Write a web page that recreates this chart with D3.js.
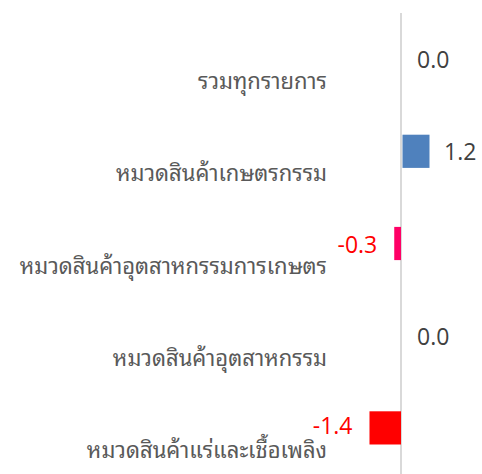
<!DOCTYPE html>
<html><head><meta charset="utf-8">
<script src="https://cdn.jsdelivr.net/npm/d3@7"></script>
<style>html,body{margin:0;padding:0;background:#fff;}</style>
</head><body><svg id="c" width="482" height="474"></svg>
<script>
const categories = ["รวมทุกรายการ","หมวดสินค้าเกษตรกรรม","หมวดสินค้าอุตสาหกรรมการเกษตร","หมวดสินค้าอุตสาหกรรม","หมวดสินค้าแร่และเชื้อเพลิง"];
const values = [0.0, 1.2, -0.3, 0.0, -1.4];
const barColors = ["#4f81bd","#4f81bd","#ff0066","#4f81bd","#ff0000"];

const svg = d3.select("#c");
const W = 482, H = 474;
const x = d3.scaleLinear().domain([-17.82, 3.6]).range([0, W]);
const y = d3.scaleBand().domain(categories).range([13, 474]).paddingInner(0.64).paddingOuter(0.32);
const thaiFont = "'Noto Sans','Noto Sans Thai Looped',sans-serif";
const numFont = "'Open Sans','Noto Sans',sans-serif";

svg.append("line").attr("x1", x(0)).attr("x2", x(0)).attr("y1", 13).attr("y2", H)
  .attr("stroke", "#d9d9d9").attr("stroke-width", 2);

svg.selectAll("rect.bar").data(values).enter().append("rect")
  .attr("x", d => x(Math.min(0, d)) + (d > 0 ? 1.5 : 0))
  .attr("width", d => Math.abs(x(d) - x(0)))
  .attr("y", (d, i) => y(categories[i]))
  .attr("height", y.bandwidth())
  .attr("fill", (d, i) => barColors[i]);

svg.selectAll("text.cat").data(categories).enter().append("text")
  .attr("x", 327).attr("y", d => y(d) + y.bandwidth() / 2 + 21)
  .attr("text-anchor", "end").attr("dominant-baseline", "central")
  .attr("font-family", thaiFont).attr("font-size", 22)
  .attr("fill", "#595959").text(d => d);

svg.selectAll("text.val").data(values).enter().append("text")
  .attr("x", d => d < 0 ? x(d) - 17 : x(d) + 16)
  .attr("y", (d, i) => y(categories[i]) + y.bandwidth() / 2 + (d < -1 ? -3 : 0))
  .attr("text-anchor", d => d < 0 ? "end" : "start").attr("dominant-baseline", "central")
  .attr("font-family", numFont).attr("font-size", 23)
  .attr("fill", d => d < 0 ? "#ff0000" : "#404040").text(d => d.toFixed(1));
</script></body></html>
